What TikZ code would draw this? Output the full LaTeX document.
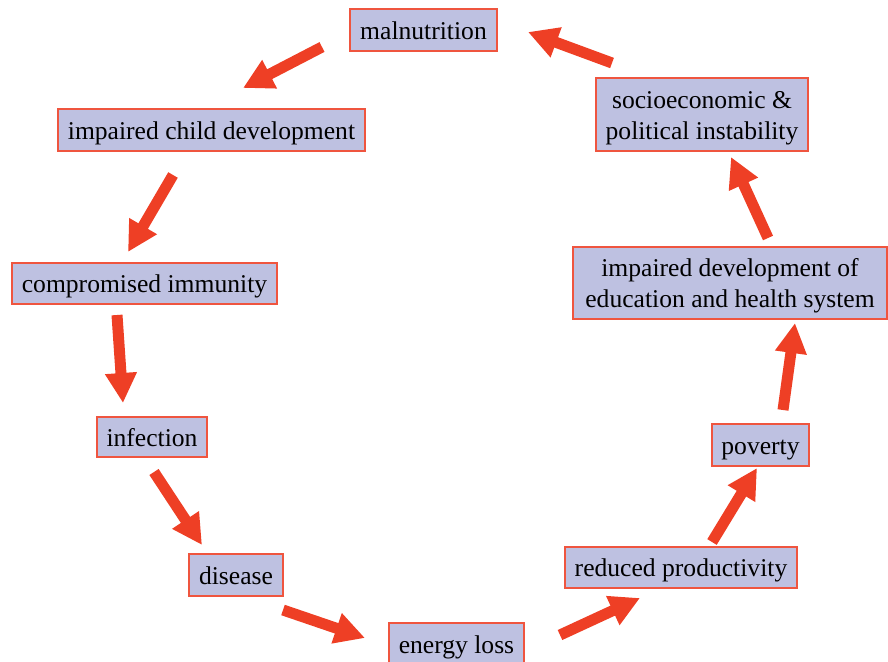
\documentclass[tikz,border=0pt]{standalone}
\usepackage{fontspec}
\setmainfont{Liberation Serif}
\usetikzlibrary{arrows.meta}
\definecolor{boxfill}{HTML}{BEC1E1}
\definecolor{boxline}{HTML}{EF553F}
\definecolor{arr}{HTML}{EE3F25}
\begin{document}
\begin{tikzpicture}[x=1pt,y=-1pt,
 box/.style={draw=boxline, fill=boxfill, line width=1.3pt, inner sep=0pt,
   font=\fontsize{25.6}{31}\selectfont, align=center, text=black,
   text height=18.6pt, text depth=0pt},
 box2/.style={box, text height=49.6pt},
 flow/.style={draw=arr, line width=11pt, -{Triangle[width=30pt,length=30pt]}}]
\useasboundingbox (0,0) rectangle (888,661);
\node[box, minimum width=147pt, minimum height=42pt] (mal) at (423.5,30) {malnutrition};
\node[box, minimum width=307pt, minimum height=42pt] (child) at (211.5,130) {impaired child development};
\node[box, minimum width=265pt, minimum height=41pt] (immun) at (144.5,283.5) {compromised immunity};
\node[box, minimum width=110pt, minimum height=40pt] (infect) at (152,437) {infection};
\node[box, minimum width=94pt, minimum height=42pt] (disease) at (236,575) {disease};
\node[box, minimum width=135pt, minimum height=42pt] (energy) at (456.5,644) {energy loss};
\node[box, minimum width=232pt, minimum height=41pt] (reduced) at (681,567.5) {reduced productivity};
\node[box, minimum width=97pt, minimum height=42pt] (poverty) at (760.5,445) {poverty};
\node[box2, minimum width=314pt, minimum height=72pt] (impdev) at (730,283) {impaired development of\\education and health system};
\node[box2, minimum width=212pt, minimum height=73pt] (socio) at (702,114.5) {socioeconomic \&\\political instability};
% arrow ends
\coordinate (a1s) at (322,47);  \coordinate (a1e) at (243,88);
\coordinate (a2s) at (173,175); \coordinate (a2e) at (128,252);
\coordinate (a3s) at (117,315); \coordinate (a3e) at (123,403);
\coordinate (a4s) at (154,472); \coordinate (a4e) at (202,545);
\coordinate (a5s) at (283,610); \coordinate (a5e) at (365,638);
\coordinate (a6s) at (560,635); \coordinate (a6e) at (640,598);
\coordinate (a7s) at (712,542); \coordinate (a7e) at (757,468);
\coordinate (a8s) at (783,410); \coordinate (a8e) at (795,323);
\coordinate (a9s) at (768,238); \coordinate (a9e) at (731,157);
\coordinate (a10s) at (612,63); \coordinate (a10e) at (528,32);
\draw[flow] (a1s) -- (a1e);
\draw[flow] (a2s) -- (a2e);
\draw[flow] (a3s) -- (a3e);
\draw[flow] (a4s) -- (a4e);
\draw[flow] (a5s) -- (a5e);
\draw[flow] (a6s) -- (a6e);
\draw[flow] (a7s) -- (a7e);
\draw[flow] (a8s) -- (a8e);
\draw[flow] (a9s) -- (a9e);
\draw[flow] (a10s) -- (a10e);
\end{tikzpicture}
\end{document}
